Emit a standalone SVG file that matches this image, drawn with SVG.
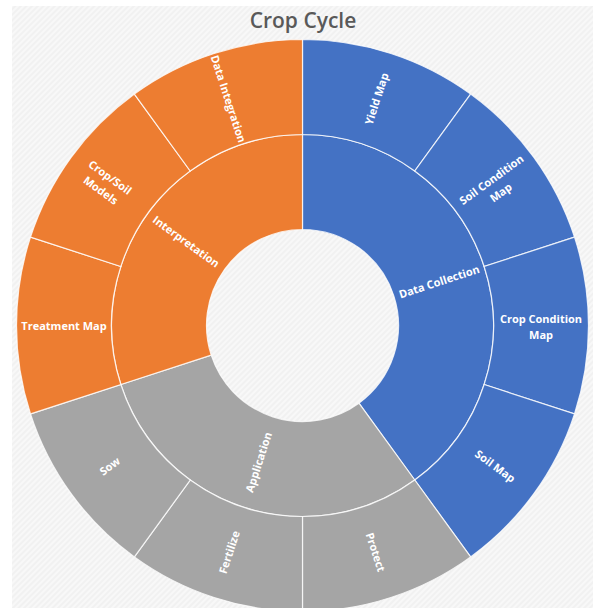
<svg xmlns="http://www.w3.org/2000/svg" width="593" height="608" viewBox="0 0 593 608">
<defs>
<pattern id="hatch" width="4" height="4" patternUnits="userSpaceOnUse" patternTransform="rotate(45)">
<rect width="4" height="4" fill="#f1f1f1"/>
<rect width="2" height="4" fill="#f8f8f8"/>
</pattern>
<style>
.seg{stroke:#ffffff;stroke-width:1.2;stroke-opacity:0.8}
.dc{fill:#4472C4}
.ap{fill:#A5A5A5}
.in{fill:#ED7D31}
.lbl{fill:#ffffff;font-family:"Open Sans","Noto Sans","Liberation Sans",sans-serif;font-weight:700;font-size:11px;text-anchor:middle;dominant-baseline:central}
.title{fill:#595959;font-family:"Open Sans","Noto Sans","Liberation Sans",sans-serif;font-weight:600;font-size:21px;text-anchor:middle}
</style>
</defs>
<rect width="593" height="608" fill="#ffffff"/>
<rect x="12" y="6" width="581" height="602" fill="url(#hatch)"/>
<text class="title" x="303" y="28">Crop Cycle</text>

<g id="connectors"></g>

<g id="data-collection">
<path class="seg dc" d="M302.5 134.5 A191 191 0 0 1 414.77 480.02 L358.93 403.17 A96 96 0 0 0 302.5 229.5 Z"/>
<text class="lbl" transform="translate(439,281.2) rotate(-18)">Data Collection</text>
</g>
<g id="application">
<path class="seg ap" d="M414.77 480.02 A191 191 0 0 1 120.85 384.52 L211.2 355.17 A96 96 0 0 0 358.93 403.17 Z"/>
<text class="lbl" transform="translate(258.2,462) rotate(-72)">Application</text>
</g>
<g id="interpretation">
<path class="seg in" d="M120.85 384.52 A191 191 0 0 1 302.5 134.5 L302.5 229.5 A96 96 0 0 0 211.2 355.17 Z"/>
<text class="lbl" transform="translate(186.4,241.2) rotate(36)">Interpretation</text>
</g>

<g id="yield-map">
<path class="seg dc" d="M302.5 39.5 A286 286 0 0 1 470.61 94.12 L414.77 170.98 A191 191 0 0 0 302.5 134.5 Z"/>
<text class="lbl" transform="translate(376.2,98.7) rotate(-72)">Yield Map</text>
</g>
<g id="soil-condition-map">
<path class="seg dc" d="M470.61 94.12 A286 286 0 0 1 574.5 237.12 L484.15 266.48 A191 191 0 0 0 414.77 170.98 Z"/>
<text class="lbl" transform="translate(495.5,185.3) rotate(-36)"><tspan x="0" dy="-8">Soil Condition</tspan><tspan x="0" dy="16">Map</tspan></text>
</g>
<g id="crop-condition-map">
<path class="seg dc" d="M574.5 237.12 A286 286 0 0 1 574.5 413.88 L484.15 384.52 A191 191 0 0 0 484.15 266.48 Z"/>
<text class="lbl" transform="translate(541,325.5)"><tspan x="0" dy="-8">Crop Condition</tspan><tspan x="0" dy="16">Map</tspan></text>
</g>
<g id="soil-map">
<path class="seg dc" d="M574.5 413.88 A286 286 0 0 1 470.61 556.88 L414.77 480.02 A191 191 0 0 0 484.15 384.52 Z"/>
<text class="lbl" transform="translate(495.5,465.7) rotate(36)">Soil Map</text>
</g>
<g id="protect">
<path class="seg ap" d="M470.61 556.88 A286 286 0 0 1 302.5 611.5 L302.5 516.5 A191 191 0 0 0 414.77 480.02 Z"/>
<text class="lbl" transform="translate(376,552) rotate(72)">Protect</text>
</g>
<g id="fertilize">
<path class="seg ap" d="M302.5 611.5 A286 286 0 0 1 134.39 556.88 L190.23 480.02 A191 191 0 0 0 302.5 516.5 Z"/>
<text class="lbl" transform="translate(228.8,552) rotate(-72)">Fertilize</text>
</g>
<g id="sow">
<path class="seg ap" d="M134.39 556.88 A286 286 0 0 1 30.5 413.88 L120.85 384.52 A191 191 0 0 0 190.23 480.02 Z"/>
<text class="lbl" transform="translate(109.5,465.7) rotate(-36)">Sow</text>
</g>
<g id="treatment-map">
<path class="seg in" d="M30.5 413.88 A286 286 0 0 1 30.5 237.12 L120.85 266.48 A191 191 0 0 0 120.85 384.52 Z"/>
<text class="lbl" transform="translate(64,325.5)">Treatment Map</text>
</g>
<g id="crop-soil-models">
<path class="seg in" d="M30.5 237.12 A286 286 0 0 1 134.39 94.12 L190.23 170.98 A191 191 0 0 0 120.85 266.48 Z"/>
<text class="lbl" transform="translate(106,183) rotate(36)"><tspan x="0" dy="-8">Crop/Soil</tspan><tspan x="0" dy="16">Models</tspan></text>
</g>
<g id="data-integration">
<path class="seg in" d="M134.39 94.12 A286 286 0 0 1 302.5 39.5 L302.5 134.5 A191 191 0 0 0 190.23 170.98 Z"/>
<text class="lbl" transform="translate(228.8,98.7) rotate(72)">Data Integration</text>
</g>
</svg>
